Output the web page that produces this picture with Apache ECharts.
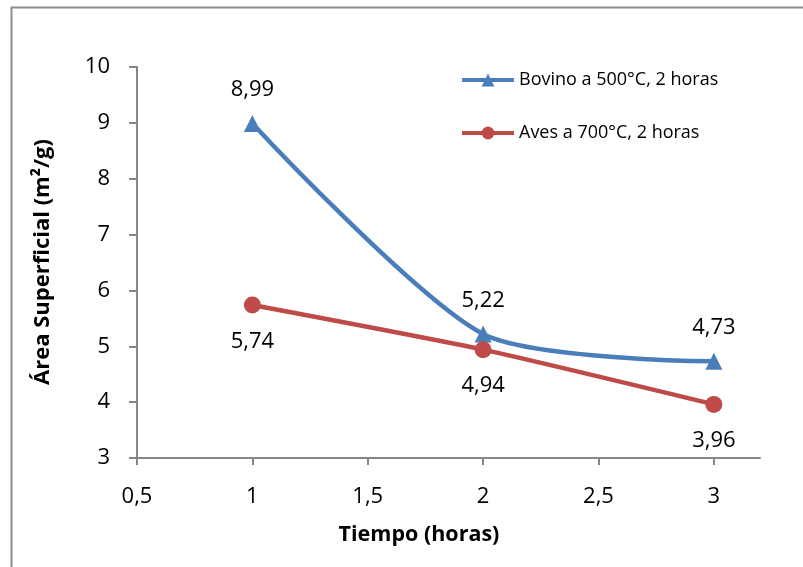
<!DOCTYPE html>
<html>
<head>
<meta charset="utf-8">
<script src="https://cdn.jsdelivr.net/npm/echarts@6/dist/echarts.min.js"></script>
<style>
  html, body { margin: 0; padding: 0; background: #fff; }
  #chart { width: 803px; height: 567px; }
</style>
</head>
<body>
<div id="chart"></div>
<script>
// datos
var tiempo = [1, 2, 3];
var bovino = [8.99, 5.22, 4.73];
var aves   = [5.74, 4.94, 3.96];
var xTicks = [0.5, 1, 1.5, 2, 2.5, 3];
var serieNames = ['Bovino a 500°C, 2 horas', 'Aves a 700°C, 2 horas'];

var azul = '#4A7EBB', rojo = '#BE4B48', gris = '#868686';
var fuente = 'Open Sans';

function pares(xs, ys){
	return xs.map(function(x, i){ return [x, ys[i]]; });
}
function coma(v){
	return String(v).replace('.', ',');
}

var myChart = echarts.init(document.getElementById('chart'));

var option = {
	animation : false,
	textStyle : { fontFamily : fuente },
	grid : { left : 137, top : 67, right : 43, bottom : 109 },
	legend : {
		orient : 'vertical',
		left : 455, top : 66,
		itemWidth : 52, itemHeight : 16, itemGap : 35,
		lineStyle : { width : 4 },
		textStyle : { fontSize : 18, color : '#000', fontFamily : fuente },
		data : serieNames
	},
	xAxis : {
		type : 'value', min : 0.5, max : 3.2, interval : 0.5,
		splitLine : { show : false },
		axisLine : { lineStyle : { color : gris, width : 2 } },
		axisTick : { length : 7, lineStyle : { color : gris, width : 2 }, customValues : xTicks },
		axisLabel : { margin : 28, fontSize : 22, color : '#000', customValues : xTicks,
			formatter : function(v){ return coma(v); } }
	},
	yAxis : {
		type : 'value', min : 3, max : 10, interval : 1,
		splitLine : { show : false },
		axisLine : { show : true, lineStyle : { color : gris, width : 2 } },
		axisTick : { show : true, length : 8, lineStyle : { color : gris, width : 2 } },
		axisLabel : { margin : 27, fontSize : 22, color : '#000' }
	},
	graphic : [
		{ type : 'rect', shape : { x : 11.5, y : 7.5, width : 820, height : 600 },
		  style : { fill : null, stroke : '#8C8C8C', lineWidth : 2 }, silent : true },
		{ type : 'text', x : 419, y : 535,
		  style : { text : 'Tiempo (horas)', fontSize : 21.5, fontWeight : 'bold', fontFamily : fuente,
		            fill : '#000', align : 'center', verticalAlign : 'middle' } },
		{ type : 'text', x : 43, y : 262, rotation : Math.PI / 2,
		  style : { text : 'Área Superficial (m²/g)', fontSize : 22, fontWeight : 'bold', fontFamily : fuente,
		            fill : '#000', align : 'center', verticalAlign : 'middle' } }
	],
	series : [
		{
			name : serieNames[0], type : 'line', smooth : 0.25,
			data : pares(tiempo, bovino),
			symbol : 'triangle', symbolSize : 17,
			lineStyle : { color : azul, width : 4.5 },
			itemStyle : { color : azul },
			label : { show : true, position : 'top', distance : 14, fontSize : 22, color : '#000',
				formatter : function(p){ return coma(p.value[1].toFixed(2)); } }
		},
		{
			name : serieNames[1], type : 'line', smooth : 0.2,
			data : pares(tiempo, aves),
			symbol : 'circle', symbolSize : 17,
			lineStyle : { color : rojo, width : 4.5 },
			itemStyle : { color : rojo },
			label : { show : true, position : 'bottom', distance : 17, fontSize : 22, color : '#000',
				formatter : function(p){ return coma(p.value[1].toFixed(2)); } }
		}
	]
};

myChart.setOption(option);
</script>
</body>
</html>
